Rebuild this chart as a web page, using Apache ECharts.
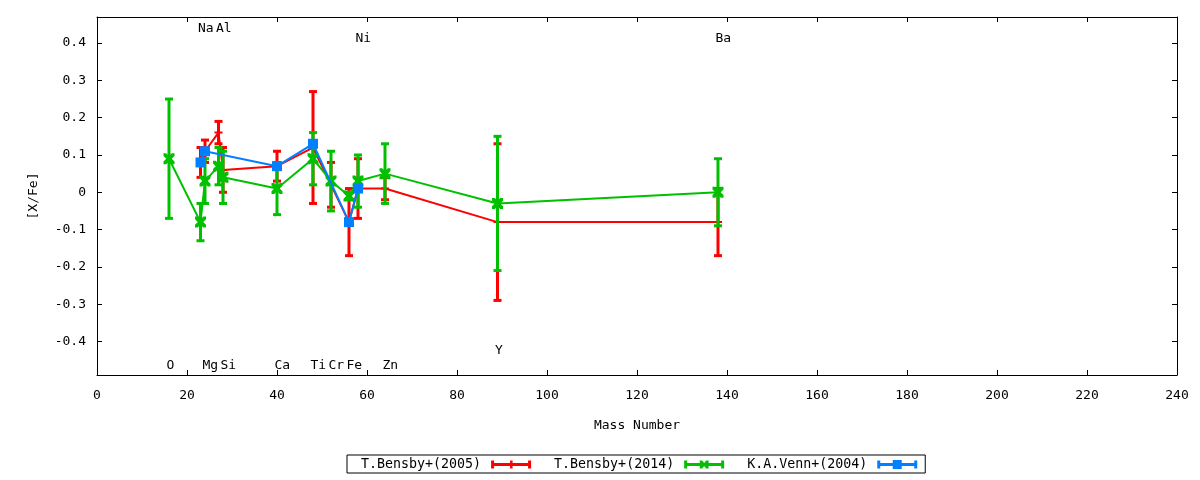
<!DOCTYPE html>
<html><head><meta charset="utf-8">
<script src="https://cdn.jsdelivr.net/npm/echarts@6/dist/echarts.min.js"></script>
<style>html,body{margin:0;padding:0;background:#fff}#c{width:1200px;height:480px}</style>
</head><body><div id="c"></div>
<script>
// ---- data ----
const yTicks = [-0.4, -0.3, -0.2, -0.1, 0, 0.1, 0.2, 0.3, 0.4];

const elemNames = ['O', 'Na', 'Mg', 'Al', 'Si', 'Ca', 'Ti', 'Cr', 'Fe', 'Ni', 'Zn', 'Y', 'Ba'];
const elemMass  = [16, 23, 24, 27, 28, 40, 48, 52, 56, 58, 64, 89, 138];
const elemLabelY = [-0.464, 0.44, -0.464, 0.44, -0.464, -0.464, -0.464, -0.464, -0.464, 0.413, -0.464, -0.425, 0.413];

const bensby05Mass = [23, 24, 27, 28, 40, 48, 52, 56, 58, 64, 89, 138];
const bensby05Val  = [0.08, 0.11, 0.16, 0.06, 0.07, 0.12, 0.02, -0.08, 0.01, 0.01, -0.08, -0.08];
const bensby05Err  = [0.04, 0.03, 0.03, 0.06, 0.04, 0.15, 0.06, 0.09, 0.08, 0.03, 0.21, 0.09];

const bensby14Mass = [16, 23, 24, 27, 28, 40, 48, 52, 56, 58, 64, 89, 138];
const bensby14Val  = [0.09, -0.08, 0.03, 0.07, 0.04, 0.01, 0.09, 0.03, -0.01, 0.03, 0.05, -0.03, 0.00];
const bensby14Err  = [0.16, 0.05, 0.06, 0.05, 0.07, 0.07, 0.07, 0.08, 0.01, 0.07, 0.08, 0.18, 0.09];

const venn04Mass = [23, 24, 40, 48, 56, 58];
const venn04Val  = [0.08, 0.11, 0.07, 0.13, -0.08, 0.01];
const venn04Err  = [0, 0, 0, 0, 0, 0];

const seriesNames = ['T.Bensby+(2005)', 'T.Bensby+(2014)', 'K.A.Venn+(2004)'];
const colors = ['#ff0000', '#00c000', '#0080ff'];

// ---- helpers ----
const FONT = 'DejaVu Sans Mono';
function pts(m, v) { return m.map((x, i) => [x, v[i]]); }
function errs(m, v, e) { return m.map((x, i) => [x, v[i] - e[i], v[i] + e[i]]); }
function errRender(color) {
  return function (params, api) {
    const x = api.value(0), lo = api.value(1), hi = api.value(2);
    const p1 = api.coord([x, hi]), p2 = api.coord([x, lo]);
    const hw = 4, hh = 1.5;
    return {
      type: 'group', children: [
        { type: 'line', shape: { x1: p1[0], y1: p1[1], x2: p2[0], y2: p2[1] }, style: { stroke: color, lineWidth: 3 } },
        { type: 'rect', shape: { x: p1[0] - hw, y: p1[1] - hh, width: 2 * hw, height: 2 * hh }, style: { fill: color } },
        { type: 'rect', shape: { x: p2[0] - hw, y: p2[1] - hh, width: 2 * hw, height: 2 * hh }, style: { fill: color } }
      ]
    };
  };
}
const plusSym = 'path://M3,0L5,0L5,3L8,3L8,5L5,5L5,8L3,8L3,5L0,5L0,3L3,3Z';
const xSym = 'path://M0,0L2.5,0L5,2.5L7.5,0L10,0L10,2.5L7.5,5L10,7.5L10,10L7.5,10L5,7.5L2.5,10L0,10L0,7.5L2.5,5L0,2.5Z';

const base = 'M0,5L0.01,5L0,5.01Z M5,1L8,1L8,3.5L42,3.5L42,1L45,1L45,9L42,9L42,6.5L8,6.5L8,9L5,9Z ';
const legIcons = [
  'path://' + base + 'M24,1L26.5,1L26.5,9L24,9Z',
  'path://' + base + 'M20.5,1L23,1L25,3.5L27,1L29.5,1L29.5,3L27.5,5L29.5,7L29.5,9L27,9L25,6.5L23,9L20.5,9L20.5,7L22.5,5L20.5,3Z',
  'path://' + base + 'M20.5,0.5L29.5,0.5L29.5,9.5L20.5,9.5Z'
];

function group(idx, m, v, e, sym, symSize) {
  return [
    {
      name: seriesNames[idx], type: 'custom', renderItem: errRender(colors[idx]),
      data: errs(m, v, e), encode: { x: 0, y: [1, 2] }, z: 2 + idx,
      itemStyle: { color: colors[idx] }, silent: true
    },
    {
      name: seriesNames[idx], type: 'line', data: pts(m, v), z: 2 + idx,
      symbol: sym, symbolSize: symSize, showAllSymbol: true,
      lineStyle: { color: colors[idx], width: 2 },
      itemStyle: { color: colors[idx] }, silent: true
    }
  ];
}

const chart = echarts.init(document.getElementById('c'), null, { renderer: 'canvas' });
const axisLineStyle = { show: true, onZero: false, lineStyle: { color: '#000', width: 1 } };
const tick = { show: true, inside: true, length: 5, lineStyle: { color: '#000' } };
chart.setOption({
  animation: false,
  backgroundColor: '#fff',
  textStyle: { fontFamily: FONT },
  grid: { left: 97, right: 23, top: 17, bottom: 105, containLabel: false },
  xAxis: [
    {
      type: 'value', min: 0, max: 240, interval: 20, position: 'bottom',
      axisLine: axisLineStyle, axisTick: tick, splitLine: { show: false },
      axisLabel: { color: '#000', fontFamily: FONT, fontSize: 13, margin: 14 },
      name: 'Mass Number', nameLocation: 'middle', nameGap: 44,
      nameTextStyle: { color: '#000', fontFamily: FONT, fontSize: 13 }
    },
    {
      type: 'value', min: 0, max: 240, interval: 20, position: 'top',
      axisLine: axisLineStyle, axisTick: tick, splitLine: { show: false },
      axisLabel: { show: false }
    }
  ],
  yAxis: [
    {
      type: 'value', min: -0.49, max: 0.47, position: 'left',
      axisLine: axisLineStyle, splitLine: { show: false },
      axisTick: Object.assign({ customValues: yTicks }, tick),
      axisLabel: { customValues: yTicks, color: '#000', fontFamily: FONT, fontSize: 13, margin: 11 },
      name: '[X/Fe]', nameLocation: 'middle', nameGap: 57, nameRotate: 90,
      nameTextStyle: { color: '#000', fontFamily: FONT, fontSize: 13 }
    },
    {
      type: 'value', min: -0.49, max: 0.47, position: 'right',
      axisLine: axisLineStyle, splitLine: { show: false },
      axisTick: Object.assign({ customValues: yTicks }, tick),
      axisLabel: { show: false }
    }
  ],
  legend: {
    left: 347, top: 455, orient: 'horizontal', align: 'right',
    borderColor: '#000', borderWidth: 1, borderRadius: 0,
    padding: [3, 8, 2, 14], itemGap: 23, itemWidth: 45, itemHeight: 10,
    textStyle: { color: '#000', fontFamily: FONT, fontSize: 13.3 },
    selectedMode: false,
    data: seriesNames.map((n, i) => ({ name: n, icon: legIcons[i], itemStyle: { color: colors[i] } }))
  },
  series: [
    ...group(0, bensby05Mass, bensby05Val, bensby05Err, plusSym, 8),
    ...group(1, bensby14Mass, bensby14Val, bensby14Err, xSym, 11),
    ...group(2, venn04Mass, venn04Val, venn04Err, 'rect', 10),
    {
      name: 'elements', type: 'scatter', symbol: 'circle', symbolSize: 1, z: 10, silent: true,
      data: elemMass.map((x, i) => ({ value: [x, elemLabelY[i]], name: elemNames[i] })),
      itemStyle: { color: 'rgba(0,0,0,0)' },
      labelLayout: { hideOverlap: false },
      label: {
        show: true, position: 'right', distance: -3, formatter: '{b}',
        color: '#000', opacity: 1, fontFamily: FONT, fontSize: 13
      }
    }
  ]
});
</script>
</body></html>
